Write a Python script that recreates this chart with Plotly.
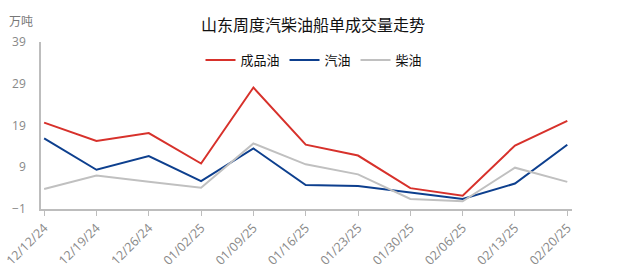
import plotly.graph_objects as go

dates = ["12/12/24", "12/19/24", "12/26/24", "01/02/25", "01/09/25", "01/16/25",
         "01/23/25", "01/30/25", "02/06/25", "02/13/25", "02/20/25"]
refined = [19.7, 15.3, 17.2, 9.9, 28.1, 14.4, 11.8, 4.0, 2.2, 14.2, 20.1]
gasoline = [15.9, 8.4, 11.7, 5.7, 13.5, 4.75, 4.5, 2.9, 1.4, 5.1, 14.4]
diesel = [3.8, 7.0, 5.5, 4.1, 14.7, 9.7, 7.3, 1.4, 0.85, 8.9, 5.5]

names = ["成品油", "汽油", "柴油"]
colors = ["#d7312b", "#0d3f8e", "#c0c0c0"]
series = [refined, gasoline, diesel]

PH = 167.0  # plot height px
PW = 531.0  # plot width px

x_idx = list(range(len(dates)))
fig = go.Figure()
for n, c, s in zip(names, colors, series):
    fig.add_trace(go.Scatter(x=x_idx, y=s, name=n, mode="lines",
                             line=dict(color=c, width=2)))

fig.update_layout(
    width=626, height=273,
    margin=dict(l=41, r=54, t=42, b=64, autoexpand=False),
    paper_bgcolor="white", plot_bgcolor="white",
    font=dict(family="Noto Sans CJK SC, Open Sans, sans-serif", color="#333"),
    title=dict(text="山东周度汽柴油船单成交量走势", x=0.5, xref="container", xanchor="center",
               y=1 - 25 / 273, yref="container", yanchor="middle",
               font=dict(size=16, color="#111")),
    legend=dict(orientation="h", x=(314 - 41) / PW, xanchor="center", xref="paper",
                y=1 - 18 / PH, yref="paper", yanchor="middle",
                font=dict(size=13, color="#111"), tracegroupgap=0,
                bgcolor="rgba(0,0,0,0)"),
    showlegend=True,
)
fig.update_xaxes(
    range=[-0.06, 10.09], tickmode="array", tickvals=x_idx, ticktext=dates,
    tickangle=-45, showgrid=False, zeroline=False, automargin=False,
    showline=True, linecolor="#bdbdbd", linewidth=1.5,
    ticks="outside", ticklen=5, tickcolor="#bdbdbd",
    tickfont=dict(size=12.5, color="#888", family="Open Sans, sans-serif"),
)
fig.update_yaxes(
    range=[-1, 39], tickmode="array", tickvals=[-1, 9, 19, 29, 39],
    showgrid=False, zeroline=False, automargin=False,
    showline=True, linecolor="#bdbdbd", linewidth=1.5, ticks="",
    ticklabelstandoff=11,
    tickfont=dict(size=12, color="#888", family="Open Sans, sans-serif"),
)
fig.add_annotation(text="万吨", xref="paper", yref="paper", x=-34 / PW, y=1 + 22 / PH,
                   xanchor="left", yanchor="middle", showarrow=False,
                   font=dict(size=12, color="#777"))
fig.write_html("out.html")
